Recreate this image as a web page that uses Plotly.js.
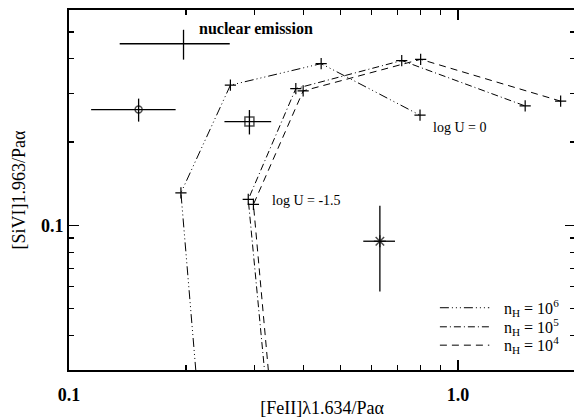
<!DOCTYPE html>
<html>
<head>
<meta charset="utf-8">
<script src="https://cdn.plot.ly/plotly-3.0.1.min.js"></script>
<style>
html,body{margin:0;padding:0;overflow:hidden;background:#fff;}
#chart{width:577px;height:418px;}
</style>
</head>
<body>
<div id="chart"></div>
<script>
// Model curves ([FeII]/Paα vs [SiVI]/Paα)
var fe_n6 = [0.217, 0.194, 0.260, 0.445, 0.799];
var si_n6 = [0.020, 0.131, 0.321, 0.384, 0.250];
var fe_n5 = [0.327, 0.289, 0.383, 0.717, 1.489];
var si_n5 = [0.020, 0.124, 0.312, 0.394, 0.270];
var fe_n4 = [0.334, 0.298, 0.400, 0.802, 1.837];
var si_n4 = [0.020, 0.119, 0.306, 0.398, 0.281];

// Observed points
var obs_names = ["nuclear emission", "circle", "square", "asterisk"];
var obs_fe = [0.197, 0.151, 0.291, 0.630];
var obs_fe_err = [0.062, 0.037, 0.040, 0.059];
var obs_si = [0.453, 0.262, 0.237, 0.0876];
var obs_si_err = [0.056, 0.025, 0.024, 0.030];
var obs_symbols = ["circle-open", "circle-open", "square-open", "asterisk-open"];
var obs_sizes = [0, 7, 9, 10];

var legend_labels = ["n<sub>H</sub> = 10<sup>6</sup>", "n<sub>H</sub> = 10<sup>5</sup>", "n<sub>H</sub> = 10<sup>4</sup>"];

var xTickVals = [0.1, 1];
var xTickText = ["<b>0.1</b>", "<b>1.0</b>"];
var xMinor = [0.2,0.3,0.4,0.5,0.6,0.7,0.8,0.9,2];
var yTickVals = [0.1];
var yTickText = ["<b>0.1</b>"];
var yMinor = [0.03,0.04,0.05,0.06,0.07,0.08,0.09,0.2,0.3,0.4,0.5,0.6];

var dash6 = "9px,3px,1px,3px,1px,3px,1px,3px";
var dash5 = "7px,3px,1px,3px";
var dash4 = "7px,5px";

var plusMarker = {symbol: "cross-thin-open", size: 8, color: "#000", line: {width: 1.2, color: "#000"}};

function curve(x, y, dash) {
  return {x: x, y: y, type: "scatter", mode: "lines+markers",
    line: {color: "#000", width: 1, dash: dash}, marker: plusMarker,
    showlegend: false, hoverinfo: "skip", cliponaxis: true};
}

var traces = [
  curve(fe_n6, si_n6, dash6),
  curve(fe_n5, si_n5, dash5),
  curve(fe_n4, si_n4, dash4),
  {x: obs_fe, y: obs_si, type: "scatter", mode: "markers", showlegend: false,
   text: obs_names, hoverinfo: "text",
   marker: {symbol: obs_symbols, size: obs_sizes, color: "#000", line: {width: 1.5, color: "#000"}},
   error_x: {type: "data", array: obs_fe_err, visible: true, color: "#000", thickness: 1.3, width: 0},
   error_y: {type: "data", array: obs_si_err, visible: true, color: "#000", thickness: 1.3, width: 0}}
];

var serif = "'Liberation Serif', 'DejaVu Serif', serif";

var axisCommon = {
  type: "log", showgrid: false, zeroline: false,
  showline: true, linecolor: "#000", linewidth: 2, mirror: "allticks",
  ticks: "inside", ticklen: 10, tickwidth: 1.5, tickcolor: "#000",
  tickmode: "array",
  tickfont: {family: serif, size: 18, color: "#000"}
};

var layout = {
  width: 577, height: 418,
  margin: {l: 69, r: 2, t: 10, b: 48},
  paper_bgcolor: "#fff", plot_bgcolor: "#fff",
  font: {family: serif, color: "#000"},
  xaxis: Object.assign({}, axisCommon, {
    range: [Math.log10(0.1), Math.log10(2.0)],
    tickvals: xTickVals, ticktext: xTickText,
    ticklabelstandoff: 7,
    minor: {tickmode: "array", tickvals: xMinor, ticks: "inside", ticklen: 5, tickwidth: 1.2, tickcolor: "#000"},
    title: {text: "[FeII]λ1.634/Paα", font: {family: serif, size: 18, color: "#000"}, standoff: 0}
  }),
  yaxis: Object.assign({}, axisCommon, {
    range: [Math.log10(0.03), Math.log10(0.6)],
    tickvals: yTickVals, ticktext: yTickText,
    minor: {tickmode: "array", tickvals: yMinor, ticks: "inside", ticklen: 5, tickwidth: 1.2, tickcolor: "#000"},
    title: {text: "[SiVI]1.963/Paα", font: {family: serif, size: 18, color: "#000"}, standoff: 11}
  }),
  annotations: [
    {xref: "paper", yref: "paper", x: 0.2524, y: 0.949, xanchor: "left", yanchor: "middle",
     text: "<b>nuclear emission</b>", showarrow: false, font: {family: serif, size: 16, color: "#000"}},
    {xref: "paper", yref: "paper", x: 0.7148, y: 0.674, xanchor: "left", yanchor: "middle",
     text: "log U = 0", showarrow: false, font: {family: serif, size: 14, color: "#000"}},
    {xref: "paper", yref: "paper", x: 0.397, y: 0.470, xanchor: "left", yanchor: "middle",
     text: "log U = -1.5", showarrow: false, font: {family: serif, size: 14, color: "#000"}},
    {xref: "paper", yref: "paper", x: 0.855, y: 0.173, xanchor: "left", yanchor: "middle",
     text: legend_labels[0], showarrow: false, font: {family: serif, size: 16, color: "#000"}},
    {xref: "paper", yref: "paper", x: 0.855, y: 0.120, xanchor: "left", yanchor: "middle",
     text: legend_labels[1], showarrow: false, font: {family: serif, size: 16, color: "#000"}},
    {xref: "paper", yref: "paper", x: 0.855, y: 0.069, xanchor: "left", yanchor: "middle",
     text: legend_labels[2], showarrow: false, font: {family: serif, size: 16, color: "#000"}}
  ],
  shapes: [
    {type: "line", xref: "paper", yref: "paper", x0: 0.733, x1: 0.8306, y0: 0.173, y1: 0.173, line: {color: "#000", width: 1, dash: dash6}},
    {type: "line", xref: "paper", yref: "paper", x0: 0.733, x1: 0.8306, y0: 0.120, y1: 0.120, line: {color: "#000", width: 1, dash: dash5}},
    {type: "line", xref: "paper", yref: "paper", x0: 0.733, x1: 0.8306, y0: 0.069, y1: 0.069, line: {color: "#000", width: 1, dash: dash4}}
  ]
};

Plotly.newPlot("chart", traces, layout, {displayModeBar: false, staticPlot: true});
</script>
</body>
</html>
